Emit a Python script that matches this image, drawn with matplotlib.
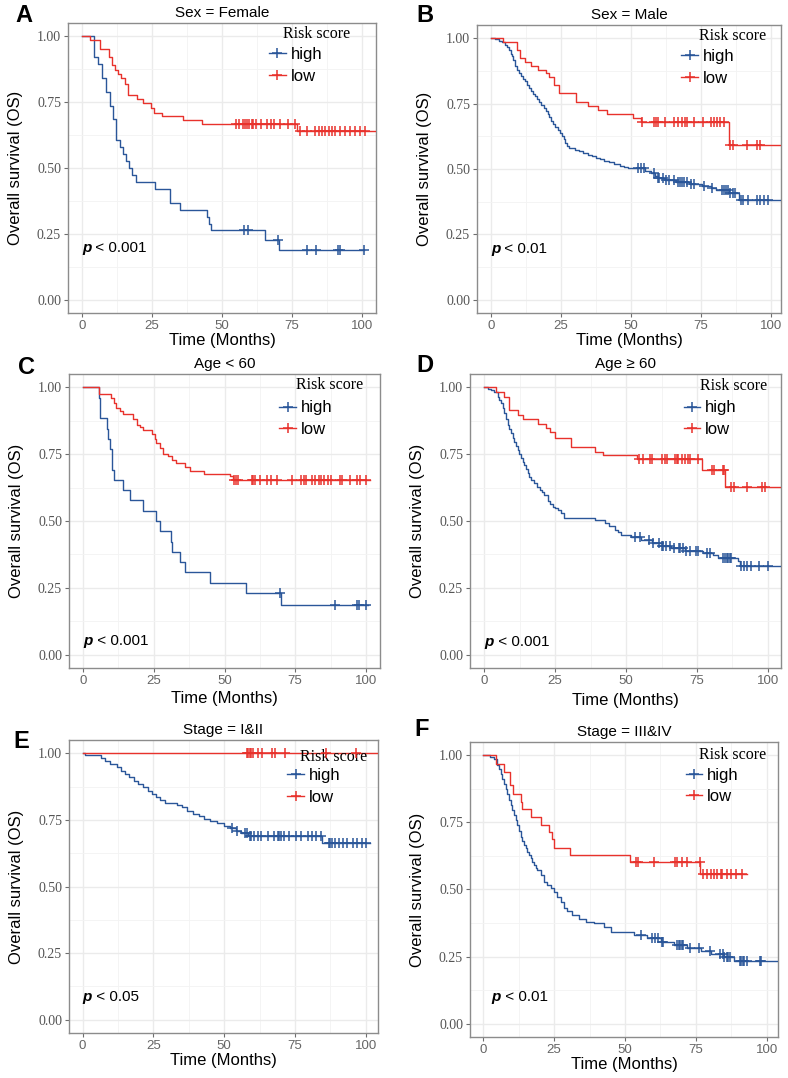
import numpy as np
import matplotlib
matplotlib.use("Agg")
import matplotlib.pyplot as plt
from matplotlib.lines import Line2D
from matplotlib.ticker import MultipleLocator

# ── Kaplan-Meier curves (time in months, survival) ──────────────────────────

# A: Sex = Female
A_high_t = [4.3, 5.8, 7.0, 8.5, 9.9, 11.0, 12.3, 13.5, 14.6, 15.7, 16.8, 18.0, 19.3,
            25.9, 31.3, 35.0, 44.6, 45.3, 46.0, 65.2, 70.2]
A_high_s = [0.921, 0.895, 0.842, 0.789, 0.737, 0.684, 0.605, 0.579, 0.553, 0.526, 0.5,
            0.474, 0.447, 0.421, 0.368, 0.342, 0.316, 0.289, 0.263, 0.227, 0.19]
A_high_cens = [57.9, 59.4, 69.9, 80.3, 83.7, 91.3, 92.0, 100.6]
A_high_end = 100.6
A_low_t = [2.7, 6.3, 9.8, 10.6, 11.8, 12.8, 14.0, 15.5, 16.5, 19.5, 21.8, 24.8, 25.7,
           28.5, 36.0, 43.0, 76.8]
A_low_s = [0.985, 0.952, 0.92, 0.89, 0.87, 0.855, 0.84, 0.82, 0.778, 0.762, 0.745,
           0.727, 0.71, 0.698, 0.683, 0.667, 0.641]
A_low_cens = [55.0, 56.2, 57.4, 58.2, 59.1, 59.8, 60.6, 61.2, 62.2, 63.8, 66.0, 67.4,
              68.4, 70.8, 73.4, 76.1, 77.9, 80.3, 83.3, 84.5, 85.7, 86.9, 88.1, 89.3,
              90.5, 92.2, 94.0, 95.8, 97.6, 99.4, 101.2]
A_low_end = 110

# B: Sex = Male
B_high_t = [1.5, 3.0, 4.0, 5.0, 5.8, 6.5, 7.0, 7.5, 8.0, 8.7, 9.3, 10.0, 10.8, 11.5,
            12.2, 13.0, 13.6, 14.3, 15.0, 15.8, 16.5, 17.3, 18.0, 18.8, 19.5, 20.2,
            20.8, 21.5, 22.2, 23.0, 23.8, 24.5, 25.3, 26.0, 26.6, 27.2, 28.0, 30.0,
            31.5, 33.0, 34.5, 36.0, 37.5, 39.0, 40.5, 42.0, 44.0, 46.0, 47.5, 49.0,
            55.0, 57.0, 58.5, 59.5, 62.0, 66.0, 71.0, 75.5, 78.5, 80.5, 85.0, 88.5]
B_high_s = [0.995, 0.99, 0.985, 0.975, 0.965, 0.955, 0.94, 0.93, 0.915, 0.895, 0.88,
            0.868, 0.857, 0.845, 0.835, 0.822, 0.81, 0.797, 0.787, 0.777, 0.768, 0.755,
            0.745, 0.733, 0.722, 0.71, 0.698, 0.685, 0.672, 0.66, 0.648, 0.636, 0.625,
            0.613, 0.6, 0.587, 0.58, 0.574, 0.568, 0.561, 0.555, 0.549, 0.543, 0.537,
            0.531, 0.525, 0.519, 0.513, 0.507, 0.502, 0.494, 0.484, 0.475, 0.466,
            0.458, 0.45, 0.443, 0.435, 0.426, 0.418, 0.41, 0.38]
B_high_cens = [52.4, 53.6, 54.5, 58.3, 59.7, 60.1, 61.3, 62.5, 63.7, 65.5, 66.7, 67.6,
               68.1, 68.8, 70.0, 71.4, 72.4, 76.2, 79.0, 82.7, 83.3, 84.0, 84.5, 85.5,
               86.5, 87.3, 89.3, 90.2, 91.7, 95.2, 96.2, 97.6, 98.8]
B_high_end = 110
B_low_t = [4.2, 9.3, 10.5, 12.3, 14.3, 16.7, 19.6, 20.8, 22.6, 24.2, 30.4, 34.8, 38.1,
           41.3, 50.6, 53.6, 85.0]
B_low_s = [0.985, 0.955, 0.925, 0.91, 0.895, 0.88, 0.865, 0.85, 0.82, 0.79, 0.757,
           0.74, 0.725, 0.71, 0.693, 0.678, 0.593]
B_low_cens = [53.8, 58.1, 58.9, 59.5, 62.1, 65.5, 66.7, 68.1, 69.3, 70.0, 72.4, 75.6,
              78.6, 79.5, 80.7, 81.9, 83.3, 85.5, 86.3, 91.4, 95.2, 96.2]
B_low_end = 110

# C: Age < 60
C_high_t = [5.5, 5.9, 8.3, 8.9, 9.5, 10.1, 11.0, 14.2, 16.7, 21.0, 25.9, 27.1, 31.0,
            31.3, 34.2, 36.0, 45.0, 57.5, 70.0]
C_high_s = [0.962, 0.885, 0.846, 0.808, 0.769, 0.692, 0.654, 0.615, 0.577, 0.538,
            0.5, 0.462, 0.423, 0.385, 0.346, 0.308, 0.269, 0.231, 0.185]
C_high_cens = [69.8, 89.0, 96.7, 97.5, 100.0]
C_high_end = 100.8
C_low_t = [5.5, 10.0, 11.0, 11.8, 13.0, 14.2, 17.7, 18.9, 20.0, 21.2, 24.2, 25.4, 25.9,
           27.1, 28.1, 30.1, 31.3, 33.0, 36.0, 37.7, 42.7, 51.9, 53.1]
C_low_s = [0.976, 0.96, 0.94, 0.924, 0.91, 0.9, 0.88, 0.86, 0.85, 0.84, 0.824, 0.805,
           0.793, 0.774, 0.752, 0.743, 0.727, 0.718, 0.702, 0.687, 0.677, 0.668, 0.652]
C_low_cens = [53.4, 54.2, 54.8, 59.6, 60.1, 60.7, 62.5, 64.9, 66.6, 68.4, 73.7, 77.2,
              78.1, 79.0, 80.8, 81.9, 83.5, 84.3, 85.1, 86.6, 87.5, 90.8, 91.7, 94.3,
              96.9, 97.8, 100.2]
C_low_end = 101.5

# D: Age >= 60
D_high_t = [1.5, 2.4, 3.5, 4.7, 5.3, 5.9, 6.5, 7.1, 7.7, 8.3, 8.9, 9.4, 10.0, 10.6,
            11.2, 11.8, 12.4, 13.0, 13.6, 14.2, 14.8, 15.3, 15.9, 16.5, 17.7, 18.6,
            19.5, 20.3, 21.2, 22.4, 23.3, 24.2, 25.0, 25.9, 27.1, 28.3, 38.9, 42.5,
            44.0, 46.0, 47.2, 48.3, 51.9, 55.4, 59.0, 62.5, 66.0, 70.8, 77.2, 80.8,
            82.5, 89.6, 90.2]
D_high_s = [0.995, 0.99, 0.984, 0.965, 0.952, 0.94, 0.922, 0.903, 0.88, 0.86, 0.843,
            0.828, 0.812, 0.797, 0.781, 0.766, 0.75, 0.735, 0.722, 0.71, 0.695, 0.679,
            0.666, 0.654, 0.641, 0.628, 0.616, 0.607, 0.598, 0.573, 0.563, 0.554,
            0.548, 0.542, 0.529, 0.511, 0.504, 0.492, 0.48, 0.467, 0.458, 0.448,
            0.442, 0.43, 0.417, 0.405, 0.398, 0.386, 0.38, 0.374, 0.361, 0.349, 0.33]
D_high_cens = [53.0, 55.0, 58.0, 59.5, 61.5, 62.5, 63.0, 64.0, 65.5, 67.0, 68.5, 69.0,
               70.0, 71.0, 72.5, 74.5, 75.5, 78.5, 79.5, 84.0, 85.0, 85.5, 86.0, 86.5,
               87.0, 90.5, 91.5, 92.5, 94.0, 97.0, 100.0]
D_high_end = 110
D_low_t = [4.1, 7.1, 8.8, 11.8, 13.6, 19.1, 21.8, 23.3, 24.8, 30.7, 38.9, 41.9, 54.0,
           76.9, 84.9]
D_low_s = [0.984, 0.965, 0.915, 0.897, 0.88, 0.863, 0.849, 0.834, 0.812, 0.778, 0.76,
           0.747, 0.732, 0.691, 0.629]
D_low_cens = [54.5, 56.1, 58.5, 59.0, 62.5, 63.7, 64.6, 67.2, 67.8, 68.4, 69.6, 70.8,
              71.9, 72.5, 75.5, 80.2, 81.1, 84.0, 84.6, 87.0, 87.9, 92.6, 97.9, 98.8]
D_low_end = 110

# E: Stage = I&II
E_high_t = [0.8, 6.5, 8.0, 9.5, 12.0, 13.5, 15.0, 16.5, 18.0, 19.5, 21.5, 23.0, 24.5,
            26.0, 27.5, 29.0, 33.5, 35.0, 37.0, 39.0, 41.0, 43.0, 45.0, 47.5, 50.0,
            52.0, 54.0, 56.0, 58.5, 84.4]
E_high_s = [0.992, 0.984, 0.972, 0.959, 0.947, 0.935, 0.922, 0.91, 0.897, 0.885,
            0.872, 0.86, 0.848, 0.835, 0.823, 0.812, 0.805, 0.797, 0.785, 0.774, 0.765,
            0.755, 0.746, 0.738, 0.727, 0.72, 0.708, 0.702, 0.69, 0.664]
E_high_cens = [52.6, 54.5, 57.5, 58.0, 59.0, 59.5, 60.5, 62.0, 63.0, 65.5, 67.5, 69.0,
               69.5, 70.0, 71.0, 73.0, 75.5, 77.0, 79.5, 81.0, 82.5, 84.0, 87.0, 87.5,
               88.0, 89.0, 90.5, 92.0, 93.5, 95.5, 97.0, 98.5, 100.0]
E_high_end = 101.3
E_low_t = []
E_low_s = []
E_low_cens = [57.9, 58.5, 59.1, 59.6, 60.2, 62.0, 63.2, 66.7, 67.9, 71.4, 86.1, 96.7]
E_low_end = 110

# F: Stage = III&IV
F_high_t = [2.5, 3.8, 4.9, 5.5, 6.1, 6.7, 7.3, 7.9, 8.5, 9.0, 9.6, 10.2, 10.8, 11.4,
            12.0, 12.6, 13.2, 13.8, 14.4, 15.0, 15.5, 16.1, 16.7, 17.3, 17.9, 18.5,
            19.1, 20.2, 21.4, 22.6, 23.8, 24.9, 26.1, 27.3, 28.5, 29.6, 31.4, 33.8,
            36.1, 39.1, 42.6, 44.9, 53.2, 57.9, 62.6, 67.3, 72.0, 76.7, 80.2, 84.9,
            88.5]
F_high_s = [0.995, 0.988, 0.963, 0.948, 0.932, 0.913, 0.895, 0.876, 0.857, 0.835,
            0.814, 0.795, 0.777, 0.758, 0.74, 0.718, 0.696, 0.68, 0.665, 0.653, 0.641,
            0.628, 0.616, 0.603, 0.591, 0.582, 0.572, 0.554, 0.529, 0.517, 0.504,
            0.492, 0.473, 0.455, 0.432, 0.418, 0.405, 0.39, 0.38, 0.374, 0.362, 0.343,
            0.331, 0.318, 0.306, 0.294, 0.281, 0.269, 0.259, 0.25, 0.232]
F_high_cens = [55.5, 59.5, 60.5, 61.5, 63.0, 63.5, 68.5, 69.0, 69.5, 70.0, 70.5, 73.0,
               76.0, 80.0, 83.5, 84.5, 85.0, 86.0, 86.5, 87.0, 90.5, 91.0, 91.5, 92.0,
               93.0, 97.5, 98.0]
F_high_end = 110
F_low_t = [4.4, 7.3, 9.4, 10.6, 13.2, 13.8, 16.7, 20.2, 23.2, 24.1, 24.9, 30.6, 51.6,
           76.5]
F_low_s = [0.969, 0.938, 0.888, 0.855, 0.826, 0.799, 0.771, 0.74, 0.715, 0.69, 0.656,
           0.628, 0.603, 0.556]
F_low_cens = [53.8, 54.7, 60.2, 67.6, 68.4, 70.2, 72.0, 76.3, 77.6, 79.1, 80.2, 81.4,
              82.6, 83.8, 84.4, 86.1, 87.5, 89.1, 91.4]
F_low_end = 93.2

letters = ["A", "B", "C", "D", "E", "F"]
titles = ["Sex = Female", "Sex = Male", "Age < 60", "Age \u2265 60",
          "Stage = I&II", "Stage = III&IV"]
pvals = ["< 0.001", "< 0.01", "< 0.001", "< 0.001", "< 0.05", "< 0.01"]
pval_pos = [(0, 0.196), (0, 0.195), (0, 0.05), (0, 0.047), (0, 0.084), (3, 0.098)]
group_labels = ["high", "low"]

panels = [
    ((A_high_t, A_high_s, A_high_cens, A_high_end), (A_low_t, A_low_s, A_low_cens, A_low_end)),
    ((B_high_t, B_high_s, B_high_cens, B_high_end), (B_low_t, B_low_s, B_low_cens, B_low_end)),
    ((C_high_t, C_high_s, C_high_cens, C_high_end), (C_low_t, C_low_s, C_low_cens, C_low_end)),
    ((D_high_t, D_high_s, D_high_cens, D_high_end), (D_low_t, D_low_s, D_low_cens, D_low_end)),
    ((E_high_t, E_high_s, E_high_cens, E_high_end), (E_low_t, E_low_s, E_low_cens, E_low_end)),
    ((F_high_t, F_high_s, F_high_cens, F_high_end), (F_low_t, F_low_s, F_low_cens, F_low_end)),
]

# ── layout (pixel boxes of each panel: left, right, top, bottom) ───────────
W, H = 788, 1078
boxes = [(68, 376, 23, 313), (477, 781, 25, 313),
         (69, 380, 374, 668), (470, 781, 374, 668),
         (69, 378, 740, 1033), (470, 778, 742, 1037)]
xlims = [(-5, 105), (-5, 103.6), (-5, 105), (-5, 104.6), (-4.8, 104.3), (-4.7, 104)]
xlabel_gap = [27, 27, 31, 33, 27, 27]
letter_pos = [(15, 15), (416, 15), (18, 367), (416, 366), (13, 742), (414, 730)]
legend_x = [0.653, 0.672, 0.676, 0.687, 0.707, 0.70]
legend_high_y = [0.897, 0.896, 0.890, 0.890, 0.883, 0.893]
legend_title_x = [0.698, 0.731, 0.729, 0.739, 0.748, 0.745]
legend_title_y = [0.962, 0.962, 0.961, 0.958, 0.941, 0.957]

BLUE = "#2A5699"
RED = "#E8322C"
colors = [BLUE, RED]
SANS = "Liberation Sans"
SERIF = "Liberation Serif"

fig = plt.figure(figsize=(W / 100, H / 100), dpi=100)


def km_curve(ax, t, s, cens, end, color):
    xs = np.concatenate([[0.0], t, [end]])
    ys = np.concatenate([[1.0], s, [s[-1] if len(s) else 1.0]])
    ax.step(xs, ys, where="post", color=color, lw=1.0, zorder=3)
    levels = np.concatenate([[1.0], s])
    idx = np.searchsorted(np.asarray(t, dtype=float), cens, side="right")
    ax.plot(cens, levels[idx], ls="none", marker="+", ms=7, mew=1.1,
            color=color, zorder=4)


for i, (groups, box) in enumerate(zip(panels, boxes)):
    l, r, top, bot = box
    ax = fig.add_axes([l / W, 1 - bot / H, (r - l) / W, (bot - top) / H])
    wpx, hpx = r - l, bot - top

    for (t, s, cens, end), col in zip(groups, colors):
        km_curve(ax, t, s, cens, end, col)

    ax.set_xlim(*xlims[i])
    ax.set_ylim(-0.05, 1.05)
    ax.xaxis.set_major_locator(MultipleLocator(25))
    ax.xaxis.set_minor_locator(MultipleLocator(12.5))
    ax.yaxis.set_major_locator(MultipleLocator(0.25))
    ax.yaxis.set_minor_locator(MultipleLocator(0.125))
    ax.grid(which="major", color="#EBEBEB", lw=1.0, zorder=0)
    ax.grid(which="minor", color="#F3F3F3", lw=0.6, zorder=0)
    ax.set_axisbelow(True)
    for sp in ax.spines.values():
        sp.set_color("#8C8C8C")
        sp.set_linewidth(1.0)
    ax.tick_params(which="major", length=3, width=0.8, color="#6E6E6E")
    ax.tick_params(which="minor", length=0)
    ax.tick_params(axis="y", pad=2)
    ax.tick_params(axis="x", pad=2)
    ax.set_yticks([0, 0.25, 0.5, 0.75, 1.0])
    ax.set_yticklabels(["0.00", "0.25", "0.50", "0.75", "1.00"],
                       family=SERIF, fontsize=10, color="#555555")
    ax.set_xticks([0, 25, 50, 75, 100])
    ax.set_xticklabels(["0", "25", "50", "75", "100"],
                       family=SANS, fontsize=9.5, color="#666666")

    ax.set_xlabel("Time (Months)", family=SANS, fontsize=12, va="center")
    ax.xaxis.set_label_coords(0.5, -xlabel_gap[i] / hpx)
    ax.set_ylabel("Overall survival (OS)", family=SANS, fontsize=12, va="center")
    ax.yaxis.set_label_coords(-52 / wpx, 0.5)

    ax.text(0.5, 1 + 10 / hpx, titles[i], transform=ax.transAxes, ha="center",
            va="center", family=SANS, fontsize=11)
    lx, ly = letter_pos[i]
    fig.text(lx / W, 1 - ly / H, letters[i], ha="left", va="center",
             family=SANS, fontsize=17, fontweight="bold")

    # p value
    px, py = pval_pos[i]
    tp = ax.text(px, py, "p", family=SANS, fontsize=11, fontweight="bold",
                 style="italic", ha="left", va="center")
    ax.annotate(" " + pvals[i], xy=(1, 0), xycoords=tp, ha="left", va="bottom",
                family=SANS, fontsize=11)

    # legend
    handles = [Line2D([], [], color=c, lw=1.0, marker="+", ms=7, mew=1.1)
               for c in colors]
    ax.legend(handles, group_labels, loc="upper left",
              bbox_to_anchor=(legend_x[i], legend_high_y[i] + 6 / hpx),
              frameon=False, handlelength=1.0, handletextpad=0.3,
              labelspacing=0.4, borderpad=0, borderaxespad=0,
              prop={"family": SANS, "size": 12})
    ax.text(legend_title_x[i], legend_title_y[i], "Risk score",
            transform=ax.transAxes, ha="left", va="center", family=SERIF,
            fontsize=11.5)

fig.savefig("out.png", dpi=100)
